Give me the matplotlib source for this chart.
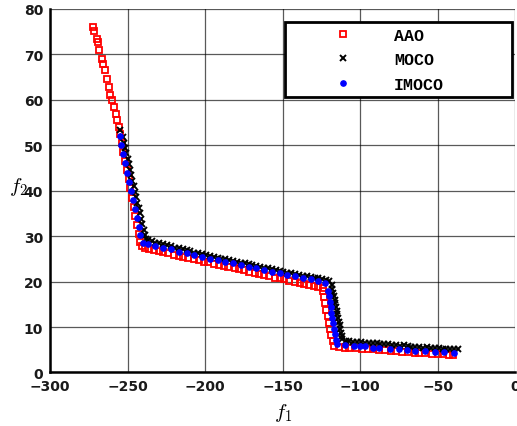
import matplotlib
matplotlib.use("Agg")
import matplotlib.pyplot as plt

plt.rcParams['mathtext.fontset'] = 'cm'

# AAO (red squares)
aao_f1 = [-272.1, -271.4, -269.9, -268.8, -268.2, -266.7, -266.0, -264.5, -263.4, -261.7,
          -261.3, -259.8, -258.7, -257.4, -256.6, -255.7,
          -254.9, -253.8, -252.7, -251.6, -250.5, -249.4, -248.3, -247.2, -246.1, -245.0,
          -243.9, -242.8, -241.9, -240.8,
          -239, -236, -233, -230, -227, -224, -220, -217, -214, -211, -207, -204, -201, -198,
          -194, -191, -188, -185, -181, -178, -175, -172, -168, -165, -162, -159, -155, -152,
          -149, -146, -142, -139, -136, -133, -130, -127, -124,
          -123.8, -123.2, -122.5, -121.8, -121.0, -120.2, -119.5, -118.7, -117.9, -116.8,
          -114, -110, -107, -103, -99, -95, -92, -88, -84, -80, -77, -73, -69, -65, -62, -58,
          -54, -50, -47, -43, -40]
aao_f2 = [76.0, 75.1, 73.5, 72.7, 70.9, 69.1, 68.0, 66.5, 64.6, 62.8,
          61.0, 59.9, 58.4, 56.9, 55.5, 54.0,
          52.5, 50.5, 48.5, 46.5, 44.5, 42.5, 40.5, 38.5, 36.5, 34.5,
          32.5, 30.5, 28.8, 27.8,
          27.4, 27.2, 27.0, 26.7, 26.5, 26.2, 25.9, 25.7, 25.4, 25.3, 24.9, 24.7, 24.4, 24.3,
          23.9, 23.7, 23.5, 23.2, 22.9, 22.7, 22.5, 22.2, 21.9, 21.7, 21.5, 21.2, 20.9, 20.7,
          20.5, 20.2, 19.9, 19.7, 19.5, 19.2, 19.0, 18.8, 18.5,
          18.0, 16.6, 15.2, 13.8, 12.4, 11.0, 9.6, 8.2, 6.9, 5.8,
          5.6, 5.5, 5.4, 5.3, 5.2, 5.1, 5.1, 4.9, 4.9, 4.8, 4.7, 4.6, 4.5, 4.4, 4.3, 4.3,
          4.1, 4.1, 4.0, 3.9, 3.8]

# MOCO (black crosses)
moco_f1 = [-255.2, -253.2, -252.4, -251.6, -250.8, -250.0, -249.2, -248.4, -247.6, -246.9,
           -246.1, -245.3, -244.5, -243.7, -242.9, -242.1, -241.3, -240.5, -239.7, -238.9,
           -237.8,
           -237.0, -234.5, -232.0, -229.5, -227.0, -224.5, -222.0, -219.5, -217.0, -214.5,
           -212.0, -209.5, -207.0, -204.5, -202.0, -199.5, -197.0, -194.5, -192.0, -189.5,
           -187.0, -184.5, -182.0, -179.5, -177.0, -174.5, -172.0, -169.5, -167.0, -164.5,
           -162.0, -159.5, -157.0, -154.5, -152.0, -149.5, -147.0, -144.5, -142.0, -139.5,
           -137.0, -134.5, -132.0, -129.5, -127.0, -124.5, -122.0, -120.0,
           -118.5, -118.0, -117.5, -117.1, -116.6, -116.1, -115.7, -115.2, -114.7, -114.3,
           -113.8, -113.3, -112.9, -112.4, -111.9, -111.5,
           -109.5, -107.0, -104.5, -102.0, -99.5, -97.0, -94.5, -92.0, -89.5, -87.0,
           -84.5, -82.0, -79.5, -77.0, -74.5, -72.0, -69.5, -67.0, -64.5, -62.0,
           -59.5, -57.0, -54.5, -52.0, -49.5, -47.0, -44.5, -42.0, -39.5, -37.0]
moco_f2 = [53.3, 51.8, 50.6, 49.4, 48.2, 47.0, 45.8, 44.6, 43.4, 42.2,
           41.0, 39.8, 38.6, 37.4, 36.2, 35.0, 33.8, 32.6, 31.4, 30.2,
           29.4,
           29.1, 28.9, 28.6, 28.5, 28.2, 28.0, 27.8, 27.5, 27.4, 27.1,
           26.9, 26.7, 26.4, 26.2, 26.0, 25.9, 25.6, 25.4, 25.2, 25.0,
           24.9, 24.7, 24.5, 24.3, 24.2, 24.0, 23.8, 23.6, 23.4, 23.3,
           23.1, 22.9, 22.7, 22.5, 22.4, 22.2, 22.0, 21.8, 21.7, 21.5,
           21.3, 21.2, 21.0, 20.9, 20.7, 20.6, 20.4, 20.1,
           19.2, 18.4, 17.6, 16.8, 16.0, 15.2, 14.4, 13.6, 12.8, 12.0,
           11.2, 10.4, 9.6, 8.8, 8.0, 7.3,
           7.0, 6.9, 6.8, 6.7, 6.8, 6.6, 6.5, 6.5, 6.4, 6.3,
           6.2, 6.3, 6.1, 6.0, 5.9, 6.0, 5.8, 5.7, 5.7, 5.6,
           5.5, 5.6, 5.4, 5.3, 5.3, 5.2, 5.2, 5.1, 5.1, 5.1]

# IMOCO (blue dots)
imoco_f1 = [-255.2, -254.0, -252.8, -251.5, -250.3, -249.0, -247.8, -246.6, -245.3, -244.1,
            -242.8, -241.7, -239.8,
            -237, -232, -227, -222, -217, -212, -207, -202, -197, -192, -187, -182, -177,
            -172, -167, -162, -157, -152, -147, -142, -137, -132, -127, -123,
            -121.0, -120.4, -119.8, -119.2, -118.6, -118.0, -117.5, -116.9, -116.4, -115.8,
            -115.0, -109.7, -104.3, -100.0, -96.8, -92.0, -88.2, -80.6, -75.3, -69.9, -64.5,
            -58.0, -51.6, -46.2, -39.8]
imoco_f2 = [52.0, 50.0, 48.0, 46.0, 44.0, 42.0, 40.0, 38.0, 36.0, 34.0,
            32.0, 30.2, 28.6,
            28.3, 27.8, 27.4, 27.1, 26.6, 26.2, 25.8, 25.5, 25.0, 24.7, 24.3, 24.0, 23.6,
            23.3, 22.9, 22.6, 22.2, 21.9, 21.5, 21.2, 20.8, 20.5, 20.1, 19.8,
            18.0, 16.8, 15.6, 14.4, 13.2, 12.0, 10.8, 9.6, 8.4, 7.2,
            6.3, 6.1, 5.9, 5.8, 5.8, 5.5, 5.3, 5.2, 5.2, 5.0, 4.8,
            4.7, 4.5, 4.5, 4.3]

xticks = [-300, -250, -200, -150, -100, -50, 0]
yticks = [0, 10, 20, 30, 40, 50, 60, 70, 80]

fig = plt.figure(figsize=(5.17, 4.27), dpi=100)
ax = fig.add_axes([0.0967, 0.1253, 0.9003, 0.8513])

ax.plot(aao_f1, aao_f2, 's', color='red', mfc='none', ms=4.8, mew=1.3, label='AAO')
ax.plot(moco_f1, moco_f2, 'x', color='black', ms=3.8, mew=1.4, label='MOCO')
ax.plot(imoco_f1, imoco_f2, 'o', color='blue', mec='blue', ms=3.8, label='IMOCO')

ax.set_xlim(-300, 0)
ax.set_ylim(0, 80)
ax.set_xticks(xticks)
ax.set_yticks(yticks)
ax.grid(True, color='black', lw=0.9, alpha=0.65)
ax.set_axisbelow(True)
for s in ['top', 'right']:
    ax.spines[s].set_visible(False)
for s in ['left', 'bottom']:
    ax.spines[s].set_linewidth(1.8)
ax.tick_params(length=0, pad=5, labelsize=10, labelcolor='#1a1a1a')
for lab in ax.get_xticklabels() + ax.get_yticklabels():
    lab.set_fontweight('bold')

ax.set_xlabel(r'$f_1$', fontsize=15, va='center')
ax.xaxis.set_label_coords(0.5, -0.109)
ax.set_ylabel(r'$f_2$', fontsize=15, rotation=0, va='center', ha='center')
ax.yaxis.set_label_coords(-0.068, 0.514)

leg = ax.legend(loc='upper left', bbox_to_anchor=(0.5513, 0.9468, 0.4385, 0.0),
                bbox_transform=fig.transFigure, mode='expand', borderaxespad=0,
                numpoints=1, handlelength=6.2, handletextpad=0.0, borderpad=0.35,
                labelspacing=0.57, fancybox=False, framealpha=1, edgecolor='black',
                prop=dict(family='Liberation Mono', weight='bold', size=12))
leg.get_frame().set_linewidth(2)

fig.savefig('out.png', dpi=100)
